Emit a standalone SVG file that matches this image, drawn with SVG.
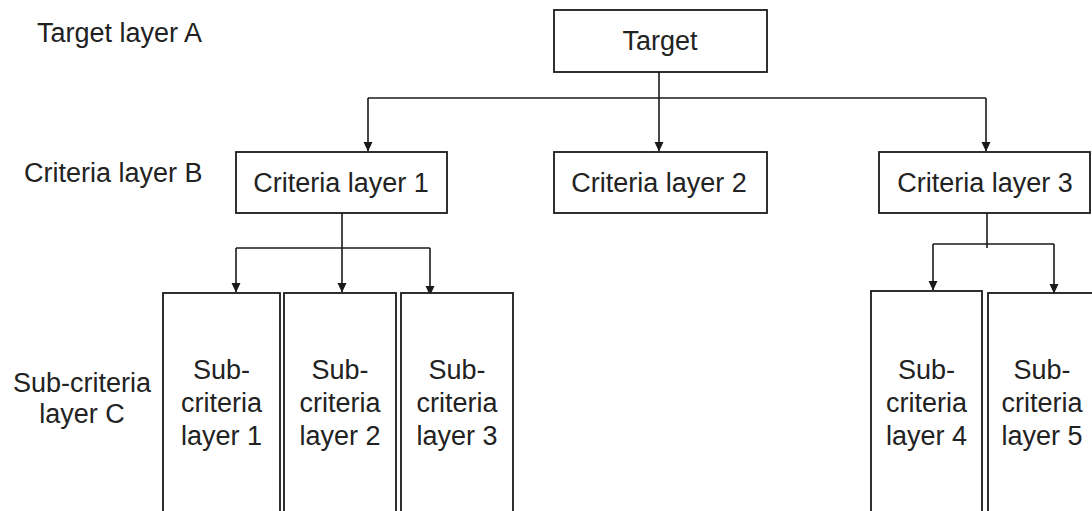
<svg xmlns="http://www.w3.org/2000/svg" width="1092" height="511" viewBox="0 0 1092 511">
  <style>
    .box { fill: #ffffff; stroke: #1a1a1a; stroke-width: 1.8; }
    .lbl { font-family: "Liberation Sans", Arial, sans-serif; font-size: 27px; fill: #222222; text-anchor: middle; }
    .side { font-family: "Liberation Sans", Arial, sans-serif; font-size: 27px; fill: #222222; }
    .wire { fill: none; stroke: #1a1a1a; stroke-width: 1.6; }
  </style>
  <defs>
    <marker id="arrow" markerUnits="userSpaceOnUse" markerWidth="10" markerHeight="10" refX="9" refY="5" orient="auto">
      <path d="M0,0.5 L9.5,5 L0,9.5 Z" fill="#1a1a1a"/>
    </marker>
  </defs>

  <rect width="1092" height="511" fill="#ffffff"/>

  <!-- layer captions -->
  <g id="layer-captions">
    <text class="side" x="37" y="42">Target layer A</text>
    <text class="side" x="24" y="182">Criteria layer B</text>
    <text class="lbl" x="82" y="392">Sub-criteria</text>
    <text class="lbl" x="82" y="423">layer C</text>
  </g>

  <!-- connectors -->
  <g id="connectors">
    <line class="wire" x1="659" y1="72" x2="659" y2="98"/>
    <line class="wire" x1="368" y1="98" x2="986" y2="98"/>
    <line class="wire" x1="368" y1="98" x2="368" y2="151" marker-end="url(#arrow)"/>
    <line class="wire" x1="659" y1="98" x2="659" y2="151" marker-end="url(#arrow)"/>
    <line class="wire" x1="986" y1="98" x2="986" y2="151" marker-end="url(#arrow)"/>

    <line class="wire" x1="342" y1="213" x2="342" y2="292" marker-end="url(#arrow)"/>
    <line class="wire" x1="236" y1="248" x2="430" y2="248"/>
    <line class="wire" x1="236" y1="248" x2="236" y2="292" marker-end="url(#arrow)"/>
    <line class="wire" x1="430" y1="248" x2="430" y2="295" marker-end="url(#arrow)"/>

    <line class="wire" x1="987" y1="213" x2="987" y2="248"/>
    <line class="wire" x1="933" y1="244" x2="1054" y2="244"/>
    <line class="wire" x1="933" y1="244" x2="933" y2="290" marker-end="url(#arrow)"/>
    <line class="wire" x1="1054" y1="244" x2="1054" y2="293" marker-end="url(#arrow)"/>
  </g>

  <!-- target -->
  <g id="target">
    <rect class="box" x="554" y="10" width="213" height="62"/>
    <text class="lbl" x="660" y="50">Target</text>
  </g>

  <!-- criteria -->
  <g id="criteria-1">
    <rect class="box" x="236" y="152" width="211" height="61"/>
    <text class="lbl" x="341" y="192">Criteria layer 1</text>
  </g>
  <g id="criteria-2">
    <rect class="box" x="554" y="152" width="213" height="61"/>
    <text class="lbl" x="659" y="192">Criteria layer 2</text>
  </g>
  <g id="criteria-3">
    <rect class="box" x="879" y="152" width="211" height="61"/>
    <text class="lbl" x="985" y="192">Criteria layer 3</text>
  </g>

  <!-- sub-criteria -->
  <g id="sub-1">
    <rect class="box" x="163" y="293" width="117" height="240"/>
    <text class="lbl" x="221.5" y="379">Sub-</text>
    <text class="lbl" x="221.5" y="412">criteria</text>
    <text class="lbl" x="221.5" y="445">layer 1</text>
  </g>
  <g id="sub-2">
    <rect class="box" x="284" y="293" width="112" height="240"/>
    <text class="lbl" x="340" y="379">Sub-</text>
    <text class="lbl" x="340" y="412">criteria</text>
    <text class="lbl" x="340" y="445">layer 2</text>
  </g>
  <g id="sub-3">
    <rect class="box" x="401" y="293" width="112" height="240"/>
    <text class="lbl" x="457" y="379">Sub-</text>
    <text class="lbl" x="457" y="412">criteria</text>
    <text class="lbl" x="457" y="445">layer 3</text>
  </g>
  <g id="sub-4">
    <rect class="box" x="871" y="291" width="111" height="240"/>
    <text class="lbl" x="926.5" y="379">Sub-</text>
    <text class="lbl" x="926.5" y="412">criteria</text>
    <text class="lbl" x="926.5" y="445">layer 4</text>
  </g>
  <g id="sub-5">
    <rect class="box" x="988" y="293" width="120" height="240"/>
    <text class="lbl" x="1042" y="379">Sub-</text>
    <text class="lbl" x="1042" y="412">criteria</text>
    <text class="lbl" x="1042" y="445">layer 5</text>
  </g>
</svg>
